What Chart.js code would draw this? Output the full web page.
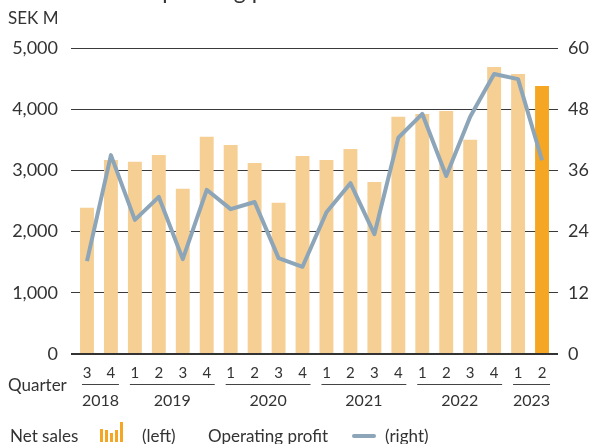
<!DOCTYPE html>
<html>
<head>
<meta charset="utf-8">
<script src="https://cdn.jsdelivr.net/npm/chart.js@4"></script>
<style>
  html, body { margin: 0; padding: 0; background: #fff; }
  #wrap { position: relative; width: 591px; height: 444px; overflow: hidden; font-family: Lato, sans-serif; color: #333; }
  #wrap canvas { position: absolute; left: 0; top: 0; }
  .txt { position: absolute; white-space: nowrap; font-size: 17px; line-height: 20px; }
  #title { position: absolute; left: 8px; top: -21px; font-size: 23px; line-height: 23px; white-space: nowrap; }
  .ico { position: absolute; display: flex; align-items: flex-end; gap: 2px; }
  .ico span { display: block; width: 3px; background: #f5a623; }
</style>
</head>
<body>
<div id="wrap">
  <canvas id="c" width="591" height="444"></canvas>
  <div id="title">Net sales and operating profit</div>
  <div class="txt" style="left:8px;top:8px">SEK M</div>
  <div class="txt" style="left:8px;top:375px">Quarter</div>
  <div class="txt" style="left:10px;top:426px">Net sales</div>
  <div class="ico" style="left:100px;top:422px;height:20px">
    <span style="height:13px"></span><span style="height:12px"></span><span style="height:9px"></span><span style="height:12px"></span><span style="height:20px"></span>
  </div>
  <div class="txt" style="left:142px;top:426px">(left)</div>
  <div class="txt" style="left:208px;top:426px">Operating profit</div>
  <div style="position:absolute;left:352px;top:434px;width:24px;height:4px;border-radius:2px;background:#8ca5b8"></div>
  <div class="txt" style="left:385px;top:426px">(right)</div>
</div>
<script>
// quarterly figures, 2018 Q3 - 2023 Q2
const quarters = ['3','4','1','2','3','4','1','2','3','4','1','2','3','4','1','2','3','4','1','2'];
const yearLabels = ['2018','2019','2020','2021','2022','2023'];
const quartersPerYear = [2, 4, 4, 4, 4, 2];
const netSales = [2390, 3170, 3140, 3250, 2700, 3550, 3415, 3120, 2470, 3235,
                  3170, 3350, 2810, 3875, 3920, 3970, 3500, 4690, 4575, 4380];
const operatingProfit = [18.2, 39.0, 26.3, 30.8, 18.6, 32.2, 28.4, 29.8, 18.8, 17.1,
                         27.8, 33.5, 23.5, 42.4, 47.1, 34.9, 46.5, 54.9, 53.9, 38.0];
const leftTicks = [0, 1000, 2000, 3000, 4000, 5000];
const rightTicks = [0, 12, 24, 36, 48, 60];

const FONT = 'Lato, sans-serif';
const barColors = netSales.map((v, i) => i === netSales.length - 1 ? '#f5a623' : '#f6cf95');

// year lines and labels under the quarter numbers
const yearAxis = {
  id: 'yearAxis',
  afterDraw(chart) {
    const x = chart.scales.x, ctx = chart.ctx;
    ctx.save();
    ctx.strokeStyle = '#444';
    ctx.lineWidth = 1;
    ctx.fillStyle = '#333';
    ctx.font = '16px ' + FONT;
    ctx.textAlign = 'center';
    ctx.textBaseline = 'middle';
    let start = 0;
    yearLabels.forEach((y, k) => {
      const end = start + quartersPerYear[k] - 1;
      const x1 = x.getPixelForValue(start) - 5;
      const x2 = x.getPixelForValue(end) + 8;
      ctx.beginPath();
      ctx.moveTo(x1, 384.5);
      ctx.lineTo(x2, 384.5);
      ctx.stroke();
      ctx.fillText(y, (x1 + x2) / 2, 401);
      start = end + 1;
    });
    ctx.restore();
  }
};

const gridColor = c => c.tick && c.tick.value === 0 ? '#333' : '#3a3a3a';
const gridWidth = c => c.tick && c.tick.value === 0 ? 2 : 1;

new Chart(document.getElementById('c'), {
  data: {
    labels: quarters,
    datasets: [
      { type: 'line', label: 'Operating profit', data: operatingProfit, yAxisID: 'y1',
        borderColor: '#8ca5b8', borderWidth: 4, pointRadius: 0, tension: 0,
        borderJoinStyle: 'round', order: 0 },
      { type: 'bar', label: 'Net sales', data: netSales, yAxisID: 'y',
        backgroundColor: barColors, categoryPercentage: 1, barPercentage: 0.58, order: 1 }
    ]
  },
  options: {
    responsive: false,
    animation: false,
    layout: { padding: { top: 48, left: 0, right: 0, bottom: 0 } },
    plugins: { legend: { display: false }, tooltip: { enabled: false } },
    scales: {
      x: {
        offset: true,
        grid: { display: false, drawTicks: false },
        border: { display: false },
        ticks: { color: '#333', font: { family: FONT, size: 15 }, padding: 10, maxRotation: 0, autoSkip: false },
        afterFit: s => { s.height = 90; }
      },
      y: {
        position: 'left', min: 0, max: 5000,
        afterBuildTicks: s => { s.ticks = leftTicks.map(v => ({ value: v })); },
        ticks: { color: '#333', font: { family: FONT, size: 18 }, padding: 13,
                 callback: v => v.toLocaleString('en-US') },
        grid: { color: gridColor, lineWidth: gridWidth, tickLength: 4 },
        border: { display: false },
        afterFit: s => { s.width = 75; }
      },
      y1: {
        position: 'right', min: 0, max: 60,
        afterBuildTicks: s => { s.ticks = rightTicks.map(v => ({ value: v })); },
        ticks: { color: '#333', font: { family: FONT, size: 18 }, padding: 10 },
        grid: { drawOnChartArea: false, color: gridColor, lineWidth: gridWidth, tickLength: 4 },
        border: { display: false },
        afterFit: s => { s.width = 37; }
      }
    }
  },
  plugins: [yearAxis]
});
</script>
</body>
</html>
